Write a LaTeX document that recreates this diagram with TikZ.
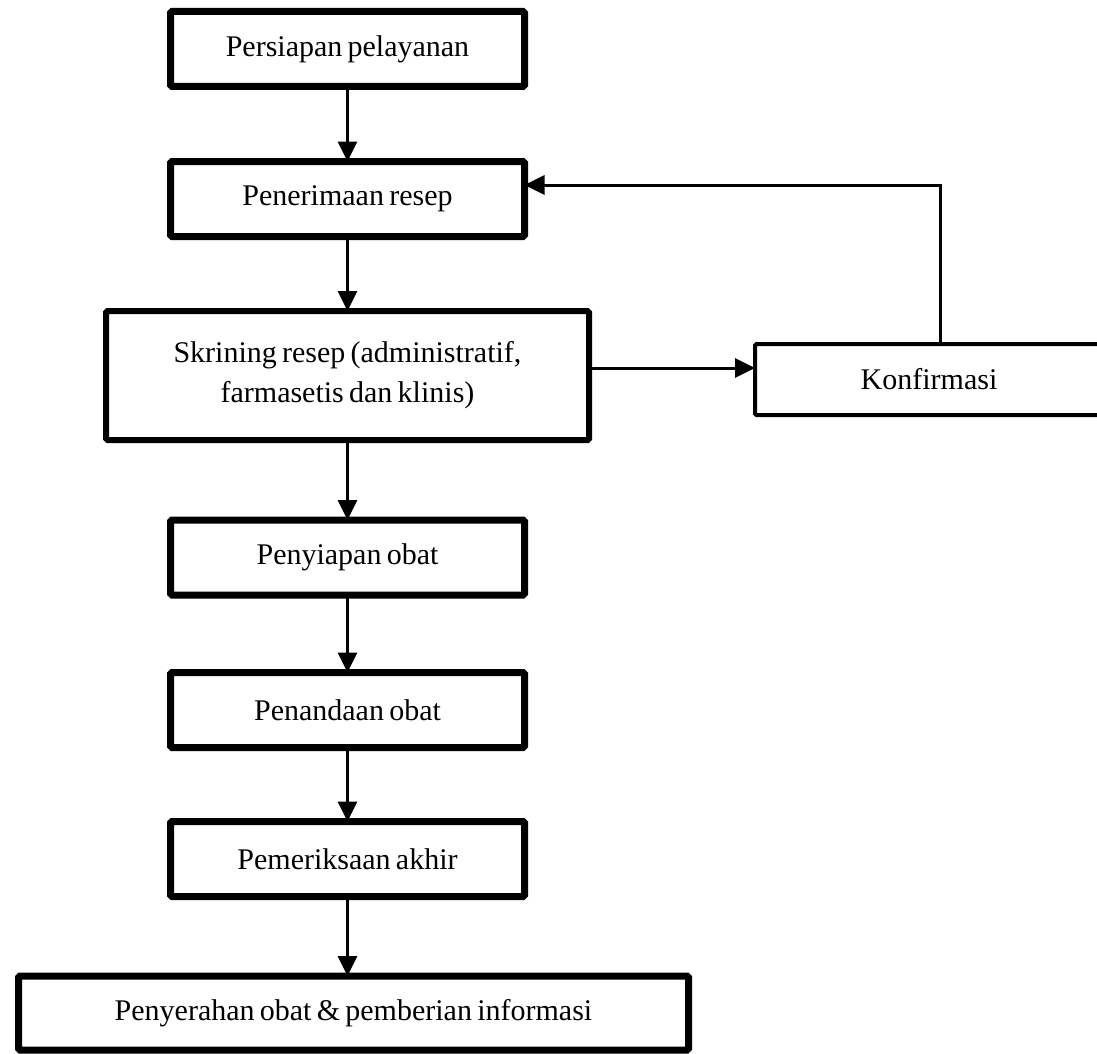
\documentclass[tikz,border=0pt]{standalone}
\usepackage{fontspec}
\setmainfont{Liberation Serif}[WordSpace=0.7]
\usetikzlibrary{arrows.meta,positioning}

\begin{document}
\begin{tikzpicture}[
            x=1pt,y=-1pt,
            box/.style={draw,rectangle,line width=7pt,rounded corners=1.5pt,
                        inner sep=0pt,outer sep=0pt,align=center,
                        minimum width=354pt,minimum height=75pt,
                        font=\fontsize{30}{40}\selectfont},
            arr/.style={line width=3pt,-{Triangle[length=20pt,width=19pt]}}
        ]
            \useasboundingbox (0,0) rectangle (1097,1054);
            \clip (0,0) rectangle (1097,1054);
            \fill[white] (0,0) rectangle (1097,1054);
            \node (siap)    [box] at (347.5,49)    {Persiapan pelayanan};
            \node (terima)  [box] at (347.5,199)   {Penerimaan resep};
            \node (skrining)[box,line width=6pt,minimum width=483pt,minimum height=129pt]
                                  at (347.5,375.5) {Skrining resep (administratif,\\farmasetis dan klinis)};
            \node (konf)    [box,line width=4pt,minimum width=348pt,minimum height=71pt]
                                  at (929,379.5)   {Konfirmasi};
            \node (obat)    [box] at (347.5,557.5) {Penyiapan obat};
            \node (tanda)   [box] at (347.5,710)   {Penandaan obat};
            \node (periksa) [box] at (347.5,859)   {Pemeriksaan akhir};
            \node (serah)   [box,minimum width=670pt,minimum height=74pt]
                                  at (353.5,1013)  {Penyerahan obat \& pemberian informasi};
            \coordinate (fb) at (940,185);
            \coordinate (ke) at (0,368);
            \draw[arr] (siap) -- (terima);
            \draw[arr] (terima) -- (skrining);
            \draw[arr] (skrining) -- (obat);
            \draw[arr] (obat) -- (tanda);
            \draw[arr] (tanda) -- (periksa);
            \draw[arr] (periksa) -- (serah.north -| periksa);
            \draw[arr] (skrining.east |- ke) -- (konf.west |- ke);
            \draw[arr] (konf.north -| fb) |- (terima.east |- fb);
        \end{tikzpicture}
\end{document}
